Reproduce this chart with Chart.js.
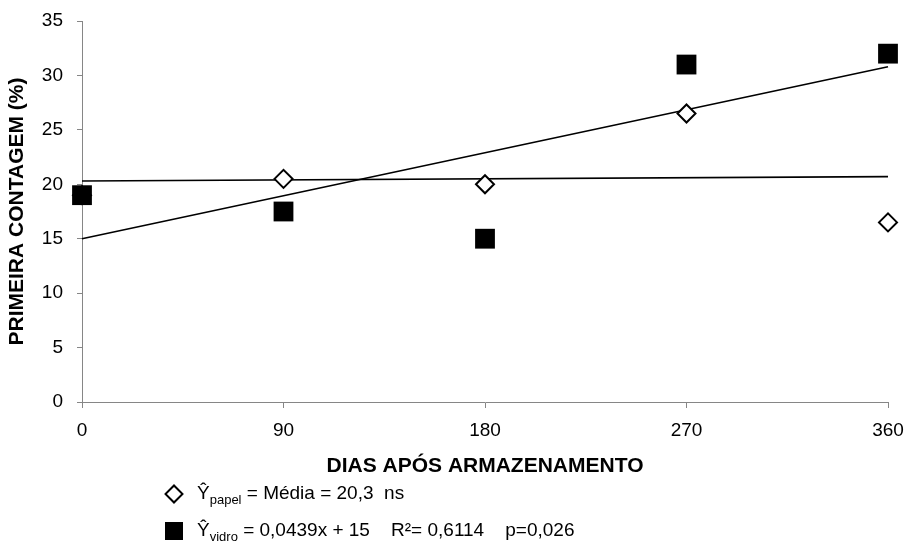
<!DOCTYPE html>
<html>
<head>
<meta charset="utf-8">
<script src="https://cdn.jsdelivr.net/npm/chart.js@4/dist/chart.umd.min.js"></script>
<style>
  html, body { margin: 0; padding: 0; background: #fff; }
  #wrap { position: relative; width: 907px; height: 542px; }
  canvas { position: absolute; left: 0; top: 0; }
  .leg { position: absolute; font-family: 'Liberation Sans', Arial, sans-serif; font-size: 19px; color: #000; white-space: pre; line-height: 22px; }
  .leg sub { font-size: 13px; vertical-align: -5px; line-height: 0; }
  .mk-d { position: absolute; width: 10px; height: 10px; border: 2px solid #000; background: #fff; transform: rotate(45deg); }
  .mk-s { position: absolute; width: 18px; height: 18px; background: #000; }
</style>
</head>
<body>
<div id="wrap">
  <canvas id="c" width="907" height="542"></canvas>
  <div class="mk-d" style="left:167px; top:487px;"></div>
  <div class="leg" style="left:197px; top:482px;">Ŷ<sub>papel</sub> = Média = 20,3  ns</div>
  <div class="mk-s" style="left:165px; top:522px;"></div>
  <div class="leg" style="left:197px; top:519px;">Ŷ<sub>vidro</sub> = 0,0439x + 15    R²= 0,6114    p=0,026</div>
</div>
<script>
// ---- data ----
const dias = [0, 90, 180, 270, 360];
const papel = [19, 20.5, 20, 26.5, 16.5];
const vidro = [19, 17.5, 15, 31, 32];
const trendX = [0, 360];
const trendPapel = [20.3, 20.7];
const trendVidro = [15, 30.8];
const xTicks = [0, 90, 180, 270, 360];
const yTicks = [0, 5, 10, 15, 20, 25, 30, 35];
const xTitle = 'DIAS APÓS ARMAZENAMENTO';
const yTitle = 'PRIMEIRA CONTAGEM (%)';

const toPts = (xs, ys) => xs.map((x, i) => ({ x: x, y: ys[i] }));
const axisGrey = '#868686';
const FONT = "'Liberation Sans', Arial, sans-serif";

new Chart(document.getElementById('c'), {
  type: 'scatter',
  data: {
    datasets: [
      {
        label: 'vidro',
        data: toPts(dias, vidro),
        pointStyle: 'rect',
        pointRadius: 14,
        pointHoverRadius: 14,
        backgroundColor: '#000',
        borderColor: '#000',
        borderWidth: 0,
        clip: false,
        order: 0
      },
      {
        label: 'papel',
        data: toPts(dias, papel),
        pointStyle: 'rectRot',
        pointRadius: 9,
        pointHoverRadius: 9,
        backgroundColor: '#fff',
        borderColor: '#000',
        borderWidth: 2,
        clip: false,
        order: 1
      },
      {
        label: 'trend vidro',
        type: 'line',
        data: toPts(trendX, trendVidro),
        borderColor: '#000',
        borderWidth: 1.6,
        pointRadius: 0,
        fill: false,
        clip: false,
        order: 2
      },
      {
        label: 'trend papel',
        type: 'line',
        data: toPts(trendX, trendPapel),
        borderColor: '#000',
        borderWidth: 1.6,
        pointRadius: 0,
        fill: false,
        clip: false,
        order: 3
      }
    ]
  },
  options: {
    responsive: false,
    animation: false,
    devicePixelRatio: 1,
    layout: { padding: { left: 1, top: 21, right: 19, bottom: 59 } },
    plugins: { legend: { display: false }, tooltip: { enabled: false } },
    scales: {
      x: {
        type: 'linear',
        min: 0, max: 360,
        afterBuildTicks: s => { s.ticks = xTicks.map(v => ({ value: v })); },
        afterFit: s => { s.height = 81; s.paddingLeft = 0; s.paddingRight = 0; },
        grid: { drawOnChartArea: false, color: axisGrey, tickLength: 6, tickColor: axisGrey },
        border: { color: axisGrey, width: 1 },
        ticks: { color: '#000', font: { family: FONT, size: 19 }, padding: 11, maxRotation: 0 },
        title: { display: true, text: xTitle, color: '#000', font: { family: FONT, size: 21, weight: 'bold' } }
      },
      y: {
        min: 0, max: 35,
        afterBuildTicks: s => { s.ticks = yTicks.map(v => ({ value: v })); },
        afterFit: s => { s.width = 81; s.paddingTop = 0; s.paddingBottom = 0; },
        grid: { drawOnChartArea: false, color: axisGrey, tickLength: 5, tickColor: axisGrey },
        border: { color: axisGrey, width: 1 },
        ticks: { color: '#000', font: { family: FONT, size: 19 }, padding: 14 },
        title: { display: true, text: yTitle, color: '#000', font: { family: FONT, size: 21, weight: 'bold' } }
      }
    }
  }
});
</script>
</body>
</html>
